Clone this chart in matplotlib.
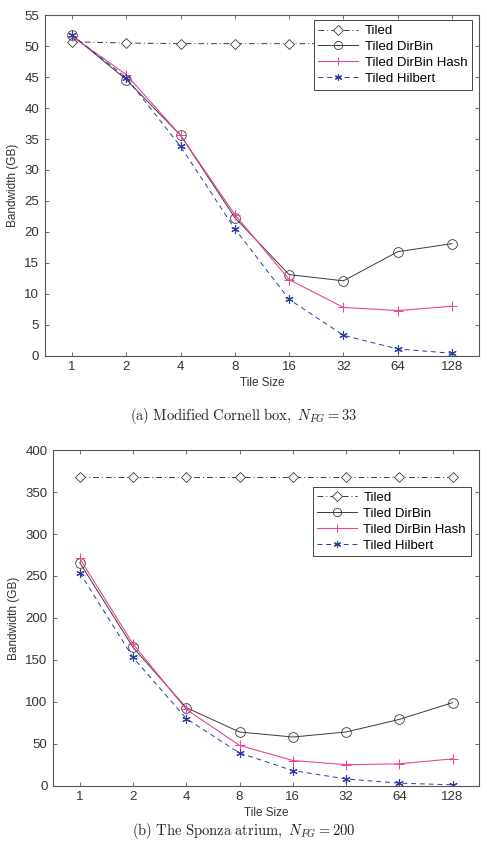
import matplotlib
matplotlib.use("Agg")
import matplotlib.pyplot as plt

plt.rcParams['font.family'] = ['Liberation Sans', 'DejaVu Sans']
plt.rcParams['mathtext.fontset'] = 'cm'

tile_sizes = ["1", "2", "4", "8", "16", "32", "64", "128"]

# (a) Modified Cornell box
cornell_tiled = [50.7, 50.5, 50.4, 50.4, 50.4, 50.4, 50.4, 50.4]
cornell_dirbin = [51.8, 44.6, 35.6, 22.3, 13.1, 12.1, 16.8, 18.1]
cornell_hash = [51.6, 45.4, 35.6, 22.8, 12.3, 7.8, 7.3, 8.0]
cornell_hilbert = [51.8, 44.9, 33.8, 20.5, 9.1, 3.3, 1.1, 0.4]

# (b) Sponza atrium
sponza_tiled = [368, 368, 368, 368, 368, 368, 368, 368]
sponza_dirbin = [266, 165, 93, 64, 58, 64, 79, 99]
sponza_hash = [271, 169, 91, 48, 30, 25, 26, 32]
sponza_hilbert = [254, 153, 80, 39, 18, 8, 3, 1]

fig = plt.figure(figsize=(4.87, 8.43), dpi=100)
ax1 = fig.add_axes([0.092, 0.578, 0.892, 0.404])
ax2 = fig.add_axes([0.109, 0.068, 0.875, 0.398])

gray = '#3a3a3a'
pink = '#f0409a'
blue = '#2b3b9e'
x = range(len(tile_sizes))


def draw(ax, tiled, dirbin, hsh, hilbert, ymax, ystep, legend_anchor):
    ax.plot(x, tiled, color=gray, linestyle=(0, (6, 3, 1, 3)), linewidth=0.7,
            marker='D', markersize=5.5, markerfacecolor='white', markeredgewidth=0.6,
            label='Tiled')
    ax.plot(x, dirbin, color=gray, linewidth=0.7, marker='o', markersize=7,
            markerfacecolor='none', markeredgewidth=0.6, label='Tiled DirBin')
    ax.plot(x, hsh, color=pink, linewidth=0.8, marker='+', markersize=7,
            markeredgewidth=0.7, label='Tiled DirBin Hash')
    ax.plot(x, hilbert, color=blue, linestyle=(0, (5, 4)), linewidth=0.7,
            marker=(6, 2, 0), markersize=6, markeredgewidth=0.8,
            label='Tiled Hilbert')
    ax.set_xlim(-0.5, 7.5)
    ax.set_ylim(0, ymax)
    ax.set_yticks(range(0, ymax + 1, ystep))
    ax.set_xticks(list(x))
    ax.set_xticklabels(tile_sizes)
    ax.tick_params(direction='in', top=True, right=True, length=3, width=0.5,
                   labelsize=9.5, colors='#333333', pad=4)
    for s in ax.spines.values():
        s.set_color('#555555')
        s.set_linewidth(0.8)
    ax.set_xlabel('Tile Size', fontsize=8.5, color='#333333', labelpad=3)
    ax.set_ylabel('Bandwidth (GB)', fontsize=8.5, color='#333333', labelpad=4)
    leg = ax.legend(loc='upper right', bbox_to_anchor=legend_anchor, fontsize=9.5,
                    fancybox=False, framealpha=1, edgecolor='#444444',
                    borderpad=0.35, labelspacing=0.28, handlelength=3.0,
                    handletextpad=0.5, borderaxespad=0, markerscale=0.85)
    leg.get_frame().set_linewidth(0.7)


draw(ax1, cornell_tiled, cornell_dirbin, cornell_hash, cornell_hilbert, 55, 5,
     (0.983, 0.985))
draw(ax2, sponza_tiled, sponza_dirbin, sponza_hash, sponza_hilbert, 400, 50,
     (0.98, 0.89))

fig.text(0.5, 0.507, r'$\mathrm{(a)\ Modified\ Cornell\ box,}\ N_{FG} = 33$',
         ha='center', va='center', fontsize=10.5, color='#222222')
fig.text(0.5, 0.014, r'$\mathrm{(b)\ The\ Sponza\ atrium,}\ N_{FG} = 200$',
         ha='center', va='center', fontsize=10.5, color='#222222')

fig.savefig('out.png', dpi=100)
